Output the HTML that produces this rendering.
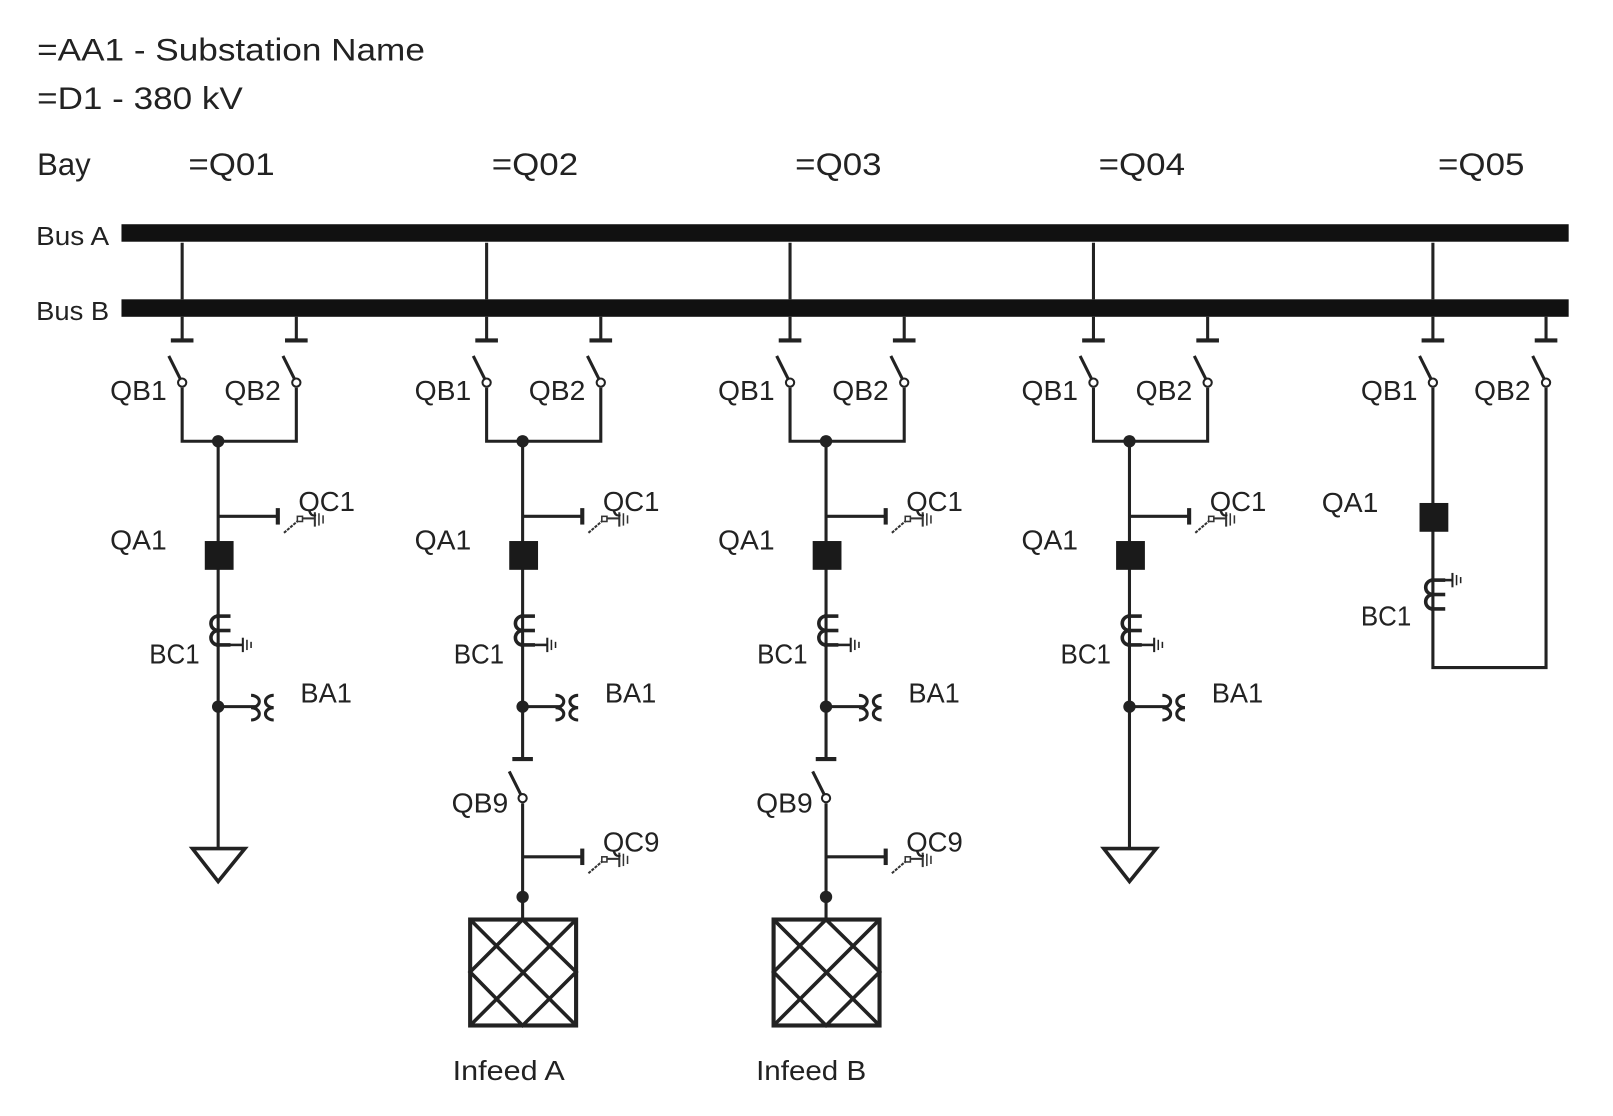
<!DOCTYPE html>
<html><head><meta charset="utf-8"><style>html,body{margin:0;padding:0;background:#fff}svg{display:block}text{font-family:"Liberation Sans","DejaVu Sans",sans-serif;fill:#222}</style></head>
<body>
<svg width="1613" height="1116" viewBox="0 0 1568 1085" xmlns="http://www.w3.org/2000/svg">
<defs>
<g id="disc">
  <line x1="-13" y1="-30" x2="-2" y2="-8" stroke="#222" stroke-width="3"/>
  <circle cx="0" cy="-4" r="4" fill="#fff" stroke="#222" stroke-width="2"/>
</g>
<g id="esw">
  <line x1="0" y1="-8" x2="0" y2="8" stroke="#222" stroke-width="4"/>
  <line x1="6" y1="16" x2="20" y2="4" stroke="#333" stroke-width="2" stroke-dasharray="3,1"/>
  <rect x="19" y="0" width="5" height="5" fill="#fff" stroke="#333" stroke-width="1.5"/>
  <line x1="24" y1="2" x2="36" y2="2" stroke="#333" stroke-width="2"/>
  <line x1="36" y1="-4" x2="36" y2="10" stroke="#333" stroke-width="2"/>
  <line x1="40" y1="-3" x2="40" y2="9" stroke="#333" stroke-width="1.5"/>
  <line x1="44" y1="-1" x2="44" y2="7" stroke="#333" stroke-width="1.5"/>
</g>
<g id="gnd">
  <line x1="0" y1="0" x2="0" y2="14" stroke="#222" stroke-width="2"/>
  <line x1="4" y1="2" x2="4" y2="12" stroke="#222" stroke-width="1.5"/>
  <line x1="8" y1="4" x2="8" y2="10" stroke="#222" stroke-width="1.5"/>
</g>
<g id="ct">
  <path d="M0,0 A7,7 0 0 0 0,14 A7,7 0 0 0 0,28" fill="none" stroke="#222" stroke-width="3.5"/>
  <line x1="-2" y1="0" x2="12" y2="0" stroke="#222" stroke-width="3.5"/>
  <line x1="-2" y1="14" x2="12" y2="14" stroke="#222" stroke-width="3.5"/>
  <line x1="-2" y1="28" x2="12" y2="28" stroke="#222" stroke-width="3.5"/>
</g>
<g id="vt" fill="none" stroke="#222" stroke-width="3">
  <path d="M0,-12 A8,6 0 0 1 0,0 A8,6 0 0 1 0,12"/>
  <path d="M22,-12 A8,6 0 0 0 22,0 A8,6 0 0 0 22,12"/>
</g>
<g id="bay" stroke="#222" fill="none">
  <line x1="177" y1="236" x2="177" y2="291" stroke-width="3"/>
  <line x1="177" y1="308" x2="177" y2="331" stroke-width="3"/>
  <line x1="166" y1="331" x2="188" y2="331" stroke-width="4"/>
  <line x1="288" y1="308" x2="288" y2="331" stroke-width="3"/>
  <line x1="277" y1="331" x2="299" y2="331" stroke-width="4"/>
  <use href="#disc" x="177" y="376"/>
  <use href="#disc" x="288" y="376"/>
  <polyline points="177,377 177,429 288,429 288,377" stroke-width="3"/>
  <circle cx="212" cy="429" r="6" fill="#222" stroke="none"/>
  <line x1="212" y1="429" x2="212" y2="687" stroke-width="3"/>
  <line x1="212" y1="502" x2="270" y2="502" stroke-width="3"/>
  <use href="#esw" x="270" y="502"/>
  <rect x="199" y="526" width="28" height="28" fill="#1a1a1a" stroke="none"/>
  <use href="#ct" x="212" y="599"/>
  <line x1="222" y1="627" x2="236" y2="627" stroke-width="2.5"/>
  <use href="#gnd" x="236" y="620"/>
  <circle cx="212" cy="687" r="6" fill="#222" stroke="none"/>
  <line x1="212" y1="687" x2="250" y2="687" stroke-width="3"/>
  <use href="#vt" x="244" y="688"/>
</g>
<g id="lbl" font-size="27">
  <text x="107" y="389" textLength="55" lengthAdjust="spacingAndGlyphs">QB1</text>
  <text x="218" y="389" textLength="55" lengthAdjust="spacingAndGlyphs">QB2</text>
  <text x="290" y="497" textLength="55" lengthAdjust="spacingAndGlyphs">QC1</text>
  <text x="107" y="534" textLength="55" lengthAdjust="spacingAndGlyphs">QA1</text>
  <text x="145" y="645" textLength="49" lengthAdjust="spacingAndGlyphs">BC1</text>
  <text x="292" y="683" textLength="50" lengthAdjust="spacingAndGlyphs">BA1</text>
</g>
<g id="feeder" stroke="#222" fill="none">
  <line x1="212" y1="687" x2="212" y2="738" stroke-width="3"/>
  <line x1="202" y1="738" x2="222" y2="738" stroke-width="4"/>
  <use href="#disc" x="212" y="780"/>
  <line x1="212" y1="781" x2="212" y2="893" stroke-width="3"/>
  <line x1="212" y1="833" x2="270" y2="833" stroke-width="3"/>
  <use href="#esw" x="270" y="833"/>
  <circle cx="212" cy="872" r="6" fill="#222" stroke="none"/>
  <rect x="161" y="894" width="103" height="103" stroke-width="4"/>
  <line x1="161" y1="894" x2="264" y2="997" stroke-width="3.5"/>
  <line x1="264" y1="894" x2="161" y2="997" stroke-width="3.5"/>
  <polygon points="212,894 264,945 212,997 161,945" stroke-width="3.5"/>
</g>
</defs>

<g font-size="31">
<text x="36" y="59" textLength="377" lengthAdjust="spacingAndGlyphs">=AA1 - Substation Name</text>
<text x="36" y="106" textLength="200" lengthAdjust="spacingAndGlyphs">=D1 - 380 kV</text>
<text x="36" y="170" textLength="52" lengthAdjust="spacingAndGlyphs">Bay</text>
<text x="183" y="170" textLength="84" lengthAdjust="spacingAndGlyphs">=Q01</text>
<text x="478" y="170" textLength="84" lengthAdjust="spacingAndGlyphs">=Q02</text>
<text x="773" y="170" textLength="84" lengthAdjust="spacingAndGlyphs">=Q03</text>
<text x="1068" y="170" textLength="84" lengthAdjust="spacingAndGlyphs">=Q04</text>
<text x="1398" y="170" textLength="84" lengthAdjust="spacingAndGlyphs">=Q05</text>
</g>
<text x="35" y="238" font-size="25" textLength="71" lengthAdjust="spacingAndGlyphs">Bus A</text>
<text x="35" y="311" font-size="25" textLength="71" lengthAdjust="spacingAndGlyphs">Bus B</text>

<rect x="118" y="218" width="1407" height="17" fill="#111"/>
<rect x="118" y="291" width="1407" height="17" fill="#111"/>

<use href="#bay"/><use href="#lbl"/>
<g stroke="#222" fill="none">
  <line x1="212" y1="687" x2="212" y2="825" stroke-width="3"/>
  <polygon points="187,825 238,825 212,857" stroke-width="3.5"/>
</g>
<g transform="translate(296,0)"><use href="#bay"/><use href="#lbl"/><use href="#feeder"/></g>
<g transform="translate(591,0)"><use href="#bay"/><use href="#lbl"/><use href="#feeder"/></g>
<g transform="translate(886,0)"><use href="#bay"/><use href="#lbl"/>
  <g stroke="#222" fill="none">
    <line x1="212" y1="687" x2="212" y2="825" stroke-width="3"/>
    <polygon points="187,825 238,825 212,857" stroke-width="3.5"/>
  </g>
</g>
<g font-size="27">
  <text x="439" y="790" textLength="55" lengthAdjust="spacingAndGlyphs">QB9</text>
  <text x="586" y="828" textLength="55" lengthAdjust="spacingAndGlyphs">QC9</text>
  <text x="735" y="790" textLength="55" lengthAdjust="spacingAndGlyphs">QB9</text>
  <text x="881" y="828" textLength="55" lengthAdjust="spacingAndGlyphs">QC9</text>
  <text x="440" y="1050" textLength="109" lengthAdjust="spacingAndGlyphs">Infeed A</text>
  <text x="735" y="1050" textLength="107" lengthAdjust="spacingAndGlyphs">Infeed B</text>
</g>

<!-- Bay 5 -->
<g stroke="#222" fill="none">
  <line x1="1393" y1="236" x2="1393" y2="291" stroke-width="3"/>
  <line x1="1393" y1="308" x2="1393" y2="331" stroke-width="3"/>
  <line x1="1382" y1="331" x2="1404" y2="331" stroke-width="4"/>
  <line x1="1503" y1="308" x2="1503" y2="331" stroke-width="3"/>
  <line x1="1492" y1="331" x2="1514" y2="331" stroke-width="4"/>
  <use href="#disc" x="1393" y="376"/>
  <use href="#disc" x="1503" y="376"/>
  <polyline points="1393,377 1393,649 1503,649 1503,377" stroke-width="3"/>
  <rect x="1380" y="489" width="28" height="28" fill="#1a1a1a" stroke="none"/>
  <use href="#ct" x="1393" y="564"/>
  <line x1="1403" y1="564" x2="1412" y2="564" stroke-width="2.5"/>
  <use href="#gnd" x="1412" y="557"/>
</g>
<g font-size="27">
  <text x="1323" y="389" textLength="55" lengthAdjust="spacingAndGlyphs">QB1</text>
  <text x="1433" y="389" textLength="55" lengthAdjust="spacingAndGlyphs">QB2</text>
  <text x="1285" y="498" textLength="55" lengthAdjust="spacingAndGlyphs">QA1</text>
  <text x="1323" y="608" textLength="49" lengthAdjust="spacingAndGlyphs">BC1</text>
</g>
</svg>
</body></html>
